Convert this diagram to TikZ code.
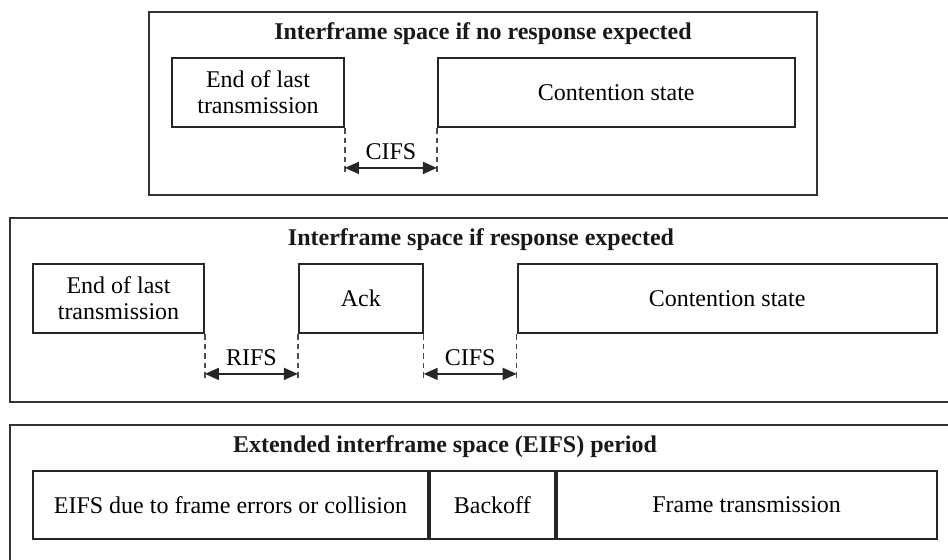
\documentclass[tikz,border=0pt]{standalone}
\usepackage{fontspec}
\setmainfont{Liberation Serif}
\usetikzlibrary{positioning, arrows.meta}
\tikzset{
	x=0.5pt, y=-0.5pt, % one unit is one pixel of the original figure
	panel/.style={draw=black!80, line width=1pt}, % the three outer frames
	frame/.style={draw=black!85, line width=0.9pt, align=center, inner sep=0pt, font=\fontsize{12}{13}\selectfont}, % boxes inside a frame
	heading/.style={font=\fontsize{12}{13}\selectfont\bfseries, text=black!90},
	guide/.style={draw=black!70, dash pattern=on 2.8pt off 2pt, line width=0.6pt}, % dashed lines down from the boxes
	gap/.style={{Triangle[length=7pt,width=6pt]}-{Triangle[length=7pt,width=6pt]}, line width=0.8pt, draw=black!85},
	gaplabel/.style={font=\fontsize{12}{13}\selectfont, yshift=8pt},
}
\begin{document}
\begin{tikzpicture}
	\useasboundingbox (0,0) rectangle (948,559);
	\clip (0,0) rectangle (948,559);
	% no response expected
	\draw[panel] (149,12) rectangle (817,195);
	\node[heading] (t1) at (483,34) {Interframe space if no response expected};
	\node[frame, minimum width=86pt, minimum height=34.5pt] (end1) at (258,92.5) {End of last\\transmission};
	\node[frame, minimum width=178.5pt, minimum height=34.5pt, right=46pt of end1] (cont1) {Contention state};
	\coordinate[below=20pt of end1.south east] (c1a);
	\coordinate[below=20pt of cont1.south west] (c1b);
	\draw[guide] (end1.south east) -- ([yshift=-2pt]c1a);
	\draw[guide] (cont1.south west) -- ([yshift=-2pt]c1b);
	\draw[gap] (c1a) -- node[gaplabel]{CIFS} (c1b);
	% response expected
	\draw[panel] (10,218) rectangle (960,402);
	\node[heading] (t2) at (481,240) {Interframe space if response expected};
	\node[frame, minimum width=85.5pt, minimum height=34.5pt] (end2) at (118.5,298.5) {End of last\\transmission};
	\node[frame, minimum width=62pt, minimum height=34.5pt, right=46.5pt of end2] (ack) {Ack};
	\node[frame, minimum width=209.5pt, minimum height=34.5pt, right=46.5pt of ack] (cont2) {Contention state};
	\coordinate[below=20pt of end2.south east] (r2a);
	\coordinate[below=20pt of ack.south west] (r2b);
	\coordinate[below=20pt of ack.south east] (c2a);
	\coordinate[below=20pt of cont2.south west] (c2b);
	\draw[guide] (end2.south east) -- ([yshift=-2pt]r2a);
	\draw[guide] (ack.south west) -- ([yshift=-2pt]r2b);
	\draw[guide] (ack.south east) -- ([yshift=-2pt]c2a);
	\draw[guide] (cont2.south west) -- ([yshift=-2pt]c2b);
	\draw[gap] (r2a) -- node[gaplabel]{RIFS} (r2b);
	\draw[gap] (c2a) -- node[gaplabel]{CIFS} (c2b);
	% EIFS
	\draw[panel] (10,425) rectangle (960,580);
	\node[heading] (t3) at (445,447) {Extended interframe space (EIFS) period};
	\node[frame, minimum width=197.5pt, minimum height=34pt] (eifs) at (230.5,505) {EIFS due to frame errors or collision};
	\node[frame, minimum width=62.5pt, minimum height=34pt, right=0pt of eifs] (backoff) {Backoff};
	\node[frame, minimum width=190pt, minimum height=34pt, right=0pt of backoff] (ftx) {Frame transmission};
\end{tikzpicture}
\end{document}
